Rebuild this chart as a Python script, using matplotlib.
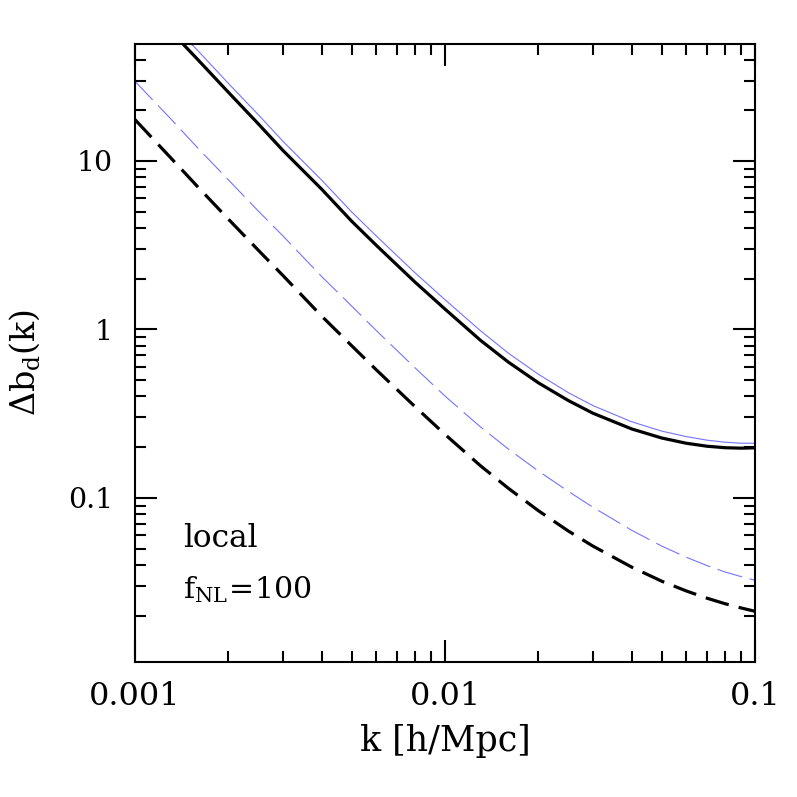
import matplotlib
matplotlib.use("Agg")
import matplotlib.pyplot as plt
from matplotlib.ticker import LogLocator, FuncFormatter, NullFormatter

plt.rcParams['font.family'] = ['DejaVu Serif']
plt.rcParams['mathtext.fontset'] = 'dejavuserif'

# k grid [h/Mpc]
k = [0.001, 0.0013, 0.0016, 0.002, 0.0025, 0.003, 0.004, 0.005, 0.006, 0.008,
     0.01, 0.013, 0.016, 0.02, 0.025, 0.03, 0.04, 0.05, 0.06, 0.07, 0.08, 0.09, 0.1]

# thick black solid
db_black_solid = [98, 59.4, 39.7, 25.6, 16.6, 11.55, 6.8, 4.39, 3.16, 1.91,
                  1.32, 0.863, 0.640, 0.482, 0.378, 0.318, 0.2565, 0.2266, 0.2109,
                  0.2025, 0.1984, 0.1972, 0.198]
# thin blue solid
db_blue_solid = [111, 67.1, 44.9, 28.9, 18.8, 13.1, 7.7, 4.98, 3.59, 2.17,
                 1.50, 0.984, 0.723, 0.542, 0.421, 0.353, 0.283, 0.249, 0.231,
                 0.220, 0.214, 0.211, 0.211]
# thick black dashed
db_black_dashed = [17.6, 10.5, 6.97, 4.52, 2.95, 2.09, 1.20, 0.80, 0.576, 0.348,
                   0.238, 0.1553, 0.114, 0.0839, 0.0635, 0.0517, 0.0388, 0.0320,
                   0.0280, 0.02536, 0.02352, 0.02221, 0.0212]
# thin blue dashed
db_blue_dashed = [29.7, 17.9, 11.85, 7.73, 5.04, 3.59, 2.06, 1.376, 0.985, 0.592,
                  0.402, 0.264, 0.195, 0.1443, 0.1092, 0.0879, 0.0642, 0.0517,
                  0.0444, 0.0396, 0.0363, 0.0341, 0.0324]

blue = '#7474ff'

fig = plt.figure(figsize=(7.97, 7.97), dpi=100)
ax = fig.add_axes([0.1694, 0.1694, 0.7779, 0.7754])

ax.plot(k, db_blue_solid, color=blue, lw=0.8)
ax.plot(k, db_blue_dashed, color=blue, lw=0.8, dashes=(23, 7))
ax.plot(k, db_black_solid, color='black', lw=2.3)
ax.plot(k, db_black_dashed, color='black', lw=2.3, dashes=(7.5, 3.2),
        dash_capstyle='butt')

ax.set_xscale('log')
ax.set_yscale('log')
ax.set_xlim(0.001, 0.1)
ax.set_ylim(0.0106, 49.5)

fmt = FuncFormatter(lambda v, p: '%g' % v)
ax.xaxis.set_major_formatter(fmt)
ax.yaxis.set_major_formatter(fmt)
ax.xaxis.set_minor_formatter(NullFormatter())
ax.yaxis.set_minor_formatter(NullFormatter())
ax.yaxis.set_major_locator(LogLocator(base=10, numticks=10))
ax.yaxis.set_minor_locator(LogLocator(base=10, subs=range(2, 10), numticks=20))

for s in ax.spines.values():
    s.set_linewidth(1.5)

ax.tick_params(which='both', direction='in', top=True, right=True, width=1.5)
ax.tick_params(which='major', length=16)
ax.tick_params(which='minor', length=8)
ax.tick_params(axis='x', which='major', labelsize=23, pad=14)
ax.tick_params(axis='y', which='major', labelsize=20.5, pad=16)

ax.set_xlabel('k [h/Mpc]', fontsize=25, labelpad=8)
ax.set_ylabel(r'$\Delta\mathrm{b_d(k)}$', fontsize=24)
ax.yaxis.set_label_coords(-0.150, 0.484)

ax.text(0.077, 0.186, 'local', transform=ax.transAxes, fontsize=22.5,
        ha='left', va='baseline')
ax.text(0.077, 0.103, r'$\mathrm{f_{NL}\!=\!100}$', transform=ax.transAxes,
        fontsize=21.5, ha='left', va='baseline')

fig.savefig('out.png', dpi=100)
